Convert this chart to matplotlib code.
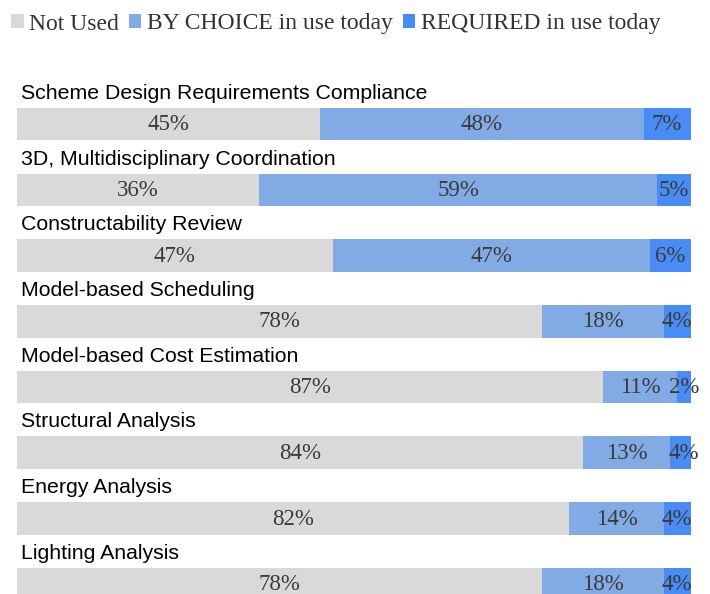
import numpy as np
import matplotlib
matplotlib.use("Agg")
from matplotlib import pyplot as plt
from matplotlib.patches import Patch

# data
categories = [
    "Scheme Design Requirements Compliance",
    "3D, Multidisciplinary Coordination",
    "Constructability Review",
    "Model-based Scheduling",
    "Model-based Cost Estimation",
    "Structural Analysis",
    "Energy Analysis",
    "Lighting Analysis",
]
not_used = [45, 36, 47, 78, 87, 84, 82, 78]
by_choice = [48, 59, 47, 18, 11, 13, 14, 18]
required = [7, 5, 6, 4, 2, 4, 4, 4]
series_names = ["Not Used", "BY CHOICE in use today", "REQUIRED in use today"]
colors = ["#D9D9D9", "#82AAE4", "#4A8CF6"]

fig = plt.figure(figsize=(7.10, 5.94), dpi=100)
ax = fig.add_axes([16.5 / 710, 0.0, 674.2 / 710, 1.0])

y = np.arange(len(categories))
bar_h = 0.495
left = np.zeros(len(categories))
for vals, col in zip([not_used, by_choice, required], colors):
    vals = np.array(vals, dtype=float)
    ax.barh(y, vals, left=left, height=bar_h, color=col, edgecolor="none")
    for yi, l, v in zip(y, left, vals):
        ax.text(l + v / 2, yi + 0.01, "%d%%" % v, ha="center", va="center",
                fontsize=16.5, family="Liberation Serif", color="#3a3a3a")
    left += vals

for yi, name in zip(y, categories):
    ax.text(0.6, yi - 0.385, name, ha="left", va="baseline",
            fontsize=15.3, family="Liberation Sans", color="black")

ax.set_xlim(0, 100)
ax.set_ylim(7.151, -1.890)
ax.axis("off")

handles = [Patch(facecolor=c, edgecolor="none") for c in colors]
fig.legend(handles, series_names, loc="center left", bbox_to_anchor=(11 / 710, 1 - 24 / 594),
           ncol=3, frameon=False, handlelength=0.53, handleheight=0.53,
           handletextpad=0.24, columnspacing=0.42, borderaxespad=0, borderpad=0,
           prop={"family": "Liberation Serif", "size": 17}, labelcolor="#333333")

fig.savefig("out.png", dpi=100)
